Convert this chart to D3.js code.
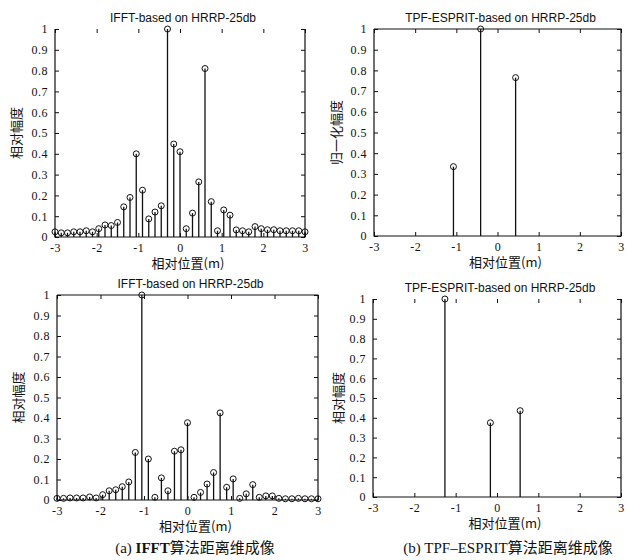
<!DOCTYPE html>
<html lang="zh">
<head>
<meta charset="utf-8">
<title>HRRP range profiles</title>
<style>
  body { margin: 0; background: #fff; }
  .tick text { font-family: "Liberation Serif", serif; font-size: 12px; fill: #111; letter-spacing: 0.5px; }
  .domain { display: none; }
  .tick line { stroke: #111; }
  .ttl { font-family: "Liberation Sans", Arial, sans-serif; font-size: 12px; fill: #111; }
  .lbl { font-family: "Noto Sans CJK SC", sans-serif; font-size: 13px; fill: #111; }
  .cap { font-family: "Liberation Serif", "Noto Sans CJK SC", serif; font-size: 15px; fill: #111; }
</style>
</head>
<body>

<svg width="628" height="560"></svg>
<script src="https://d3js.org/d3.v7.min.js"></script>

<script>
  // sample positions of the IFFT profiles (m)
  var ifftPos = [-3, -2.85, -2.7, -2.55, -2.4, -2.25, -2.1, -1.95, -1.8, -1.65,
                 -1.5, -1.35, -1.2, -1.05, -0.9, -0.75, -0.6, -0.45, -0.3, -0.15,
                 0, 0.15, 0.3, 0.45, 0.6, 0.75, 0.9, 1.05, 1.2, 1.35,
                 1.5, 1.65, 1.8, 1.95, 2.1, 2.25, 2.4, 2.55, 2.7, 2.85, 3];

  // (a) top: IFFT relative amplitude
  var ifftAmpTop = [0.025, 0.02, 0.02, 0.025, 0.025, 0.03, 0.025, 0.04, 0.058, 0.055,
                    0.07, 0.145, 0.19, 0.40, 0.225, 0.087, 0.12, 0.15, 1.0, 0.447,
                    0.41, 0.04, 0.115, 0.265, 0.81, 0.17, 0.03, 0.13, 0.105, 0.034,
                    0.03, 0.025, 0.05, 0.04, 0.035, 0.035, 0.03, 0.03, 0.03, 0.03, 0.025];

  // (a) bottom: IFFT relative amplitude
  var ifftAmpBottom = [0.008, 0.008, 0.01, 0.01, 0.01, 0.015, 0.01, 0.026, 0.045, 0.05,
                       0.065, 0.088, 0.232, 1.0, 0.2, 0.013, 0.108, 0.045, 0.238, 0.245,
                       0.377, 0.013, 0.037, 0.078, 0.134, 0.425, 0.062, 0.103, 0.008, 0.03,
                       0.075, 0.013, 0.02, 0.02, 0.008, 0.006, 0.006, 0.008, 0.006, 0.006, 0.006];

  // (b) TPF-ESPRIT scatterers
  var tpfPosTop = [-1.07, -0.41, 0.44];
  var tpfAmpTop = [0.335, 1.0, 0.765];
  var tpfPosBottom = [-1.26, -0.16, 0.56];
  var tpfAmpBottom = [1.0, 0.375, 0.436];

  var xTicks = [-3, -2, -1, 0, 1, 2, 3];
  var xTickLabels = ["-3", "-2", "-1", "0", "1", "2", "3"];
  var yTicks = [0, 0.1, 0.2, 0.3, 0.4, 0.5, 0.6, 0.7, 0.8, 0.9, 1];
  var yTickLabels = ["0", "0.1", "0.2", "0.3", "0.4", "0.5", "0.6", "0.7", "0.8", "0.9", "1"];

  var svg = d3.select("svg");

  var panels = [
    {left: 55, right: 305, top: 29, bottom: 237, topLine: false,
     pos: ifftPos, amp: ifftAmpTop, title: "IFFT-based on HRRP-25db",
     ylabel: "相对幅度", ylabelX: 16},
    {left: 374, right: 621, top: 29, bottom: 236, topLine: true,
     pos: tpfPosTop, amp: tpfAmpTop, title: "TPF-ESPRIT-based on HRRP-25db",
     ylabel: "归一化幅度", ylabelX: 336},
    {left: 57, right: 318, top: 295, bottom: 500, topLine: true,
     pos: ifftPos, amp: ifftAmpBottom, title: "IFFT-based on HRRP-25db",
     ylabel: "相对幅度", ylabelX: 18},
    {left: 373, right: 621, top: 299, bottom: 497, topLine: false,
     pos: tpfPosBottom, amp: tpfAmpBottom, title: "TPF-ESPRIT-based on HRRP-25db",
     ylabel: "相对幅度", ylabelX: 338}
  ];

  panels.forEach(function(p) {
    var x = d3.scaleLinear().domain([-3, 3]).range([p.left, p.right]),
        y = d3.scaleLinear().domain([0, 1]).range([p.bottom, p.top]);
    var g = svg.append("g");

    g.append("g")
      .attr("transform", "translate(0," + p.bottom + ")")
      .call(d3.axisBottom(x).tickValues(xTicks)
        .tickFormat(function(d, i) { return xTickLabels[i]; })
        .tickSize(-4).tickPadding(6));
    g.append("g")
      .attr("transform", "translate(0," + p.top + ")")
      .call(d3.axisTop(x).tickValues(xTicks).tickFormat("").tickSize(-4));
    g.append("g")
      .attr("transform", "translate(" + p.left + ",0)")
      .call(d3.axisLeft(y).tickValues(yTicks)
        .tickFormat(function(d, i) { return yTickLabels[i]; })
        .tickSize(-4).tickPadding(7));
    g.append("g")
      .attr("transform", "translate(" + p.right + ",0)")
      .call(d3.axisRight(y).tickValues(yTicks).tickFormat("").tickSize(-4));

    // axes box (the top edge is only drawn where the original shows it)
    var box = "M" + p.left + "," + p.top + "V" + p.bottom + "H" + p.right + "V" + p.top;
    if (p.topLine) box += "H" + p.left;
    g.append("path").attr("d", box)
      .attr("fill", "none").attr("stroke", "#111").attr("stroke-width", 1.2);

    var stems = g.selectAll(".stem")
      .data(d3.range(p.pos.length))
      .enter().append("g").attr("class", "stem");
    stems.append("line")
      .attr("x1", function(i) { return x(p.pos[i]); })
      .attr("x2", function(i) { return x(p.pos[i]); })
      .attr("y1", y(0))
      .attr("y2", function(i) { return y(p.amp[i]); })
      .attr("stroke", "#111").attr("stroke-width", 1.3);
    stems.append("circle")
      .attr("cx", function(i) { return x(p.pos[i]); })
      .attr("cy", function(i) { return y(p.amp[i]); })
      .attr("r", 3)
      .attr("fill", "none").attr("stroke", "#111").attr("stroke-width", 1);

    var cx = (p.left + p.right) / 2;
    g.append("text").attr("class", "ttl")
      .attr("x", cx + 3).attr("y", p.top - 7)
      .attr("text-anchor", "middle")
      .text(p.title);
    g.append("text").attr("class", "lbl")
      .attr("x", cx + 8).attr("y", p.bottom + 31)
      .attr("text-anchor", "middle")
      .text("相对位置(m)");
    g.append("text").attr("class", "lbl")
      .attr("transform", "translate(" + p.ylabelX + "," + ((p.top + p.bottom) / 2) + ")rotate(-90)")
      .attr("text-anchor", "middle")
      .attr("dy", "0.35em")
      .text(p.ylabel);
  });

  var capA = svg.append("text").attr("class", "cap")
    .attr("x", 195).attr("y", 553).attr("text-anchor", "middle");
  capA.append("tspan").text("(a) ");
  capA.append("tspan").attr("font-weight", "bold").text("IFFT");
  capA.append("tspan").text("算法距离维成像");

  svg.append("text").attr("class", "cap")
    .attr("x", 508).attr("y", 553).attr("text-anchor", "middle")
    .text("(b) TPF–ESPRIT算法距离维成像");
</script>

</body>
</html>
